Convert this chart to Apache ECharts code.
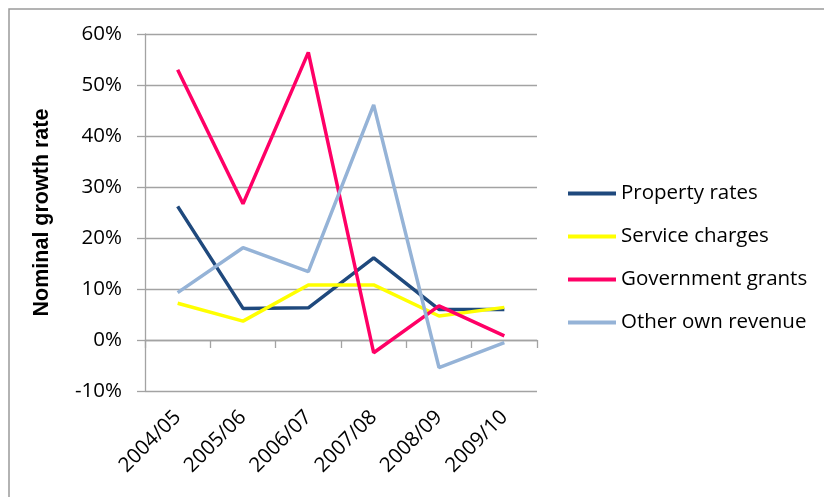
<!DOCTYPE html>
<html>
<head>
<meta charset="utf-8">
<script src="https://cdn.jsdelivr.net/npm/echarts@6/dist/echarts.min.js"></script>
<style>
html,body{margin:0;padding:0;background:#fff;}
#chart{width:824px;height:497px;}
</style>
</head>
<body>
<div id="chart"></div>
<script>
const categories = ['2004/05', '2005/06', '2006/07', '2007/08', '2008/09', '2009/10'];
const propertyRates = [26.2, 6.2, 6.3, 16.1, 6.0, 6.0];
const serviceCharges = [7.2, 3.7, 10.8, 10.8, 4.7, 6.4];
const governmentGrants = [53.0, 26.7, 56.4, -2.5, 6.7, 0.8];
const otherOwnRevenue = [9.3, 18.1, 13.4, 46.1, -5.4, -0.5];
const seriesNames = ['Property rates', 'Service charges', 'Government grants', 'Other own revenue'];
const yMin = -10, yMax = 60, yStep = 10;

const colors = ['#1F497D', '#FFFF00', '#FF0066', '#95B3D7'];
const dataSets = [propertyRates, serviceCharges, governmentGrants, otherOwnRevenue];
const gridColor = '#a3a3a3';
const font = '"Open Sans", sans-serif';

const chart = echarts.init(document.getElementById('chart'), null, {renderer: 'canvas'});
chart.setOption({
  animation: false,
  backgroundColor: '#fff',
  color: colors,
  graphic: [{
    type: 'rect',
    shape: {x: 9, y: 9, width: 900, height: 600},
    style: {fill: 'none', stroke: '#9a9a9a', lineWidth: 1.5},
    silent: true
  }],
  grid: {left: 145, right: 287, top: 34, bottom: 106, containLabel: false},
  legend: {
    orient: 'vertical',
    left: 568,
    top: 183,
    icon: 'rect',
    itemWidth: 48,
    itemHeight: 4,
    itemGap: 22,
    padding: 0,
    textStyle: {fontFamily: font, fontSize: 20.5, color: '#000', lineHeight: 21},
    data: seriesNames
  },
  xAxis: [{
    type: 'category',
    data: categories,
    position: 'bottom',
    boundaryGap: true,
    axisLine: {onZero: true, lineStyle: {color: gridColor, width: 1.3}},
    axisTick: {show: true, length: 8, lineStyle: {color: gridColor, width: 1.3}},
    axisLabel: {show: false},
    splitLine: {show: false}
  }, {
    type: 'category',
    data: categories,
    position: 'bottom',
    boundaryGap: true,
    axisLine: {show: false, onZero: false},
    axisTick: {show: false},
    axisLabel: {show: true, rotate: 45, margin: 23, fontFamily: font, fontSize: 20.5, color: '#000'},
    splitLine: {show: false}
  }],
  yAxis: {
    type: 'value',
    min: yMin,
    max: yMax,
    interval: yStep,
    name: 'Nominal growth rate',
    nameLocation: 'middle',
    nameRotate: 90,
    nameGap: 92,
    nameTextStyle: {fontFamily: '"Liberation Sans", Arial, sans-serif', fontWeight: 'bold', fontSize: 21.5, color: '#000'},
    axisLine: {show: true, lineStyle: {color: gridColor, width: 1.3}},
    axisTick: {show: true, length: 8, lineStyle: {color: gridColor, width: 1.3}},
    axisLabel: {formatter: '{value}%', margin: 23, fontFamily: font, fontSize: 20.5, color: '#000'},
    splitLine: {show: true, lineStyle: {color: gridColor, width: 1.3}}
  },
  series: seriesNames.map((name, i) => ({
    name: name,
    type: 'line',
    xAxisIndex: 0,
    data: dataSets[i],
    symbol: 'none',
    lineStyle: {color: colors[i], width: 3.5},
    itemStyle: {color: colors[i]}
  }))
});
</script>
</body>
</html>
